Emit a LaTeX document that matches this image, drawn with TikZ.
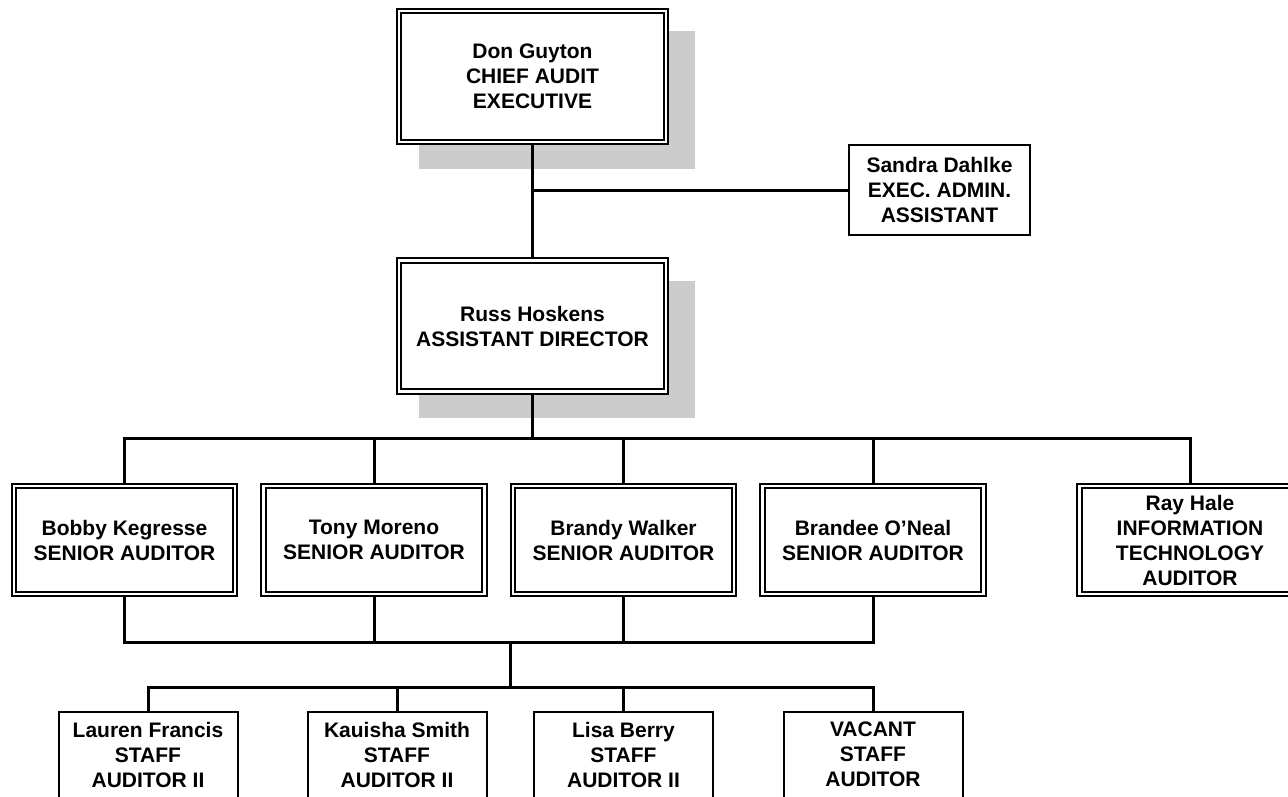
\documentclass[tikz,border=0pt]{standalone}
\usepackage{fontspec}
\setmainfont{Liberation Sans}
\usetikzlibrary{backgrounds}

\begin{document}
\begin{tikzpicture}[x=1pt, y=-1pt,
    every node/.style={font=\bfseries\fontsize{21}{25}\selectfont, align=center},
    dbox/.style={draw, fill=white, double, double distance=2.6pt, line width=1.8pt, inner sep=0pt},
    sbox/.style={draw, fill=white, line width=2pt, inner sep=0pt},
    headbox/.style={dbox, minimum width=267pt, minimum height=131pt},
    seniorbox/.style={dbox, minimum width=221pt, minimum height=108pt},
    staffbox/.style={sbox, anchor=north, minimum width=179pt, inner ysep=10pt, text depth=70pt},
    link/.style={line width=3pt},
    boxshadow/.style={fill=black!20}]
    \useasboundingbox (0,0) rectangle (1288,796);
    \clip (0,0) rectangle (1288,796);

    % top of the chart
    \node[headbox] (don) at (532.5,76.5) {Don Guyton\\CHIEF AUDIT\\EXECUTIVE};
    \node[sbox, minimum width=181pt, minimum height=90pt] (sandra) at (939.5,190) {Sandra Dahlke\\EXEC. ADMIN.\\ASSISTANT};
    \node[headbox] (russ) at (532.5,326) {Russ Hoskens\\ASSISTANT DIRECTOR};

    % senior row
    \node[seniorbox] (bobby) at (124.5,540) {Bobby Kegresse\\SENIOR AUDITOR};
    \node[seniorbox] (tony) at (374,540) {Tony Moreno\\SENIOR AUDITOR};
    \node[seniorbox] (brandy) at (623.5,540) {Brandy Walker\\SENIOR AUDITOR};
    \node[seniorbox] (brandee) at (873,540) {Brandee O’Neal\\SENIOR AUDITOR};
    \node[seniorbox] (ray) at (1190,540) {Ray Hale\\INFORMATION\\TECHNOLOGY\\AUDITOR};

    % staff row
    \node[staffbox] (lauren) at (148,711) {Lauren Francis\\STAFF\\AUDITOR II};
    \node[staffbox] (kauisha) at (397,711) {Kauisha Smith\\STAFF\\AUDITOR II};
    \node[staffbox] (lisa) at (623.5,711) {Lisa Berry\\STAFF\\AUDITOR II};
    \node[staffbox] (vacant) at (873,711) {VACANT\\STAFF\\AUDITOR};

    \coordinate (hub1) at (532.5,438);
    \coordinate (hub2) at (510,642);
    \coordinate (hub3) at (510,687);

    \begin{scope}[on background layer]
        \foreach \p in {don,russ}
            \fill[boxshadow] ([shift={(21,21)}]\p.north west) rectangle ([shift={(28,26)}]\p.south east);
        \draw[link] (don.south) -- (russ.north);
        \draw[link] (don.south |- sandra.west) -- (sandra.west);
        \draw[link] (russ.south) -- (hub1);
        \draw[link] (bobby.north) |- (ray.north |- hub1) -- (ray.north);
        \foreach \p in {tony,brandy,brandee}
            \draw[link] (\p.north) -- (\p.north |- hub1);
        \draw[link] (bobby.south) |- (brandee.south |- hub2) -- (brandee.south);
        \foreach \p in {tony,brandy}
            \draw[link] (\p.south) -- (\p.south |- hub2);
        \draw[link] (hub2) -- (hub3);
        \draw[link] (lauren.north) |- (vacant.north |- hub3) -- (vacant.north);
        \foreach \p in {kauisha,lisa}
            \draw[link] (\p.north) -- (\p.north |- hub3);
    \end{scope}
\end{tikzpicture}
\end{document}
